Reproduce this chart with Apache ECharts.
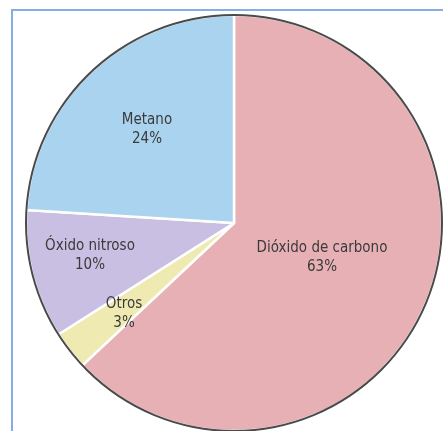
<!DOCTYPE html>
<html>
<head>
<meta charset="utf-8">
<script src="https://cdn.jsdelivr.net/npm/echarts@6/dist/echarts.min.js"></script>
<style>html,body{margin:0;padding:0;background:#fff}#c{width:443px;height:431px}</style>
</head>
<body>
<div id="c"></div>
<script>
const categories = ['Dióxido de carbono', 'Otros', 'Óxido nitroso', 'Metano'];
const values = [63, 3, 10, 24];
const colors = ['#e7b0b5', '#efeab2', '#c9bfe3', '#a9d3ee'];
const labelPos = [[322, 258], [124, 314], [90, 256], [147, 130]];

const chart = echarts.init(document.getElementById('c'), null, {renderer: 'canvas'});
chart.setOption({
  animation: false,
  graphic: [{
    type: 'rect', shape: {x: 12, y: 10, width: 600, height: 600},
    style: {fill: 'none', stroke: '#86aee6', lineWidth: 2}, z: 0
  }],
  series: [{
    type: 'pie',
    center: [234, 223],
    radius: [0, 208],
    startAngle: 90,
    clockwise: true,
    z: 2,
    itemStyle: {borderColor: '#ffffff', borderWidth: 2.5},
    label: {
      show: true, position: 'inside',
      formatter: p => p.name + '\n' + p.value + '%',
      fontFamily: '"Liberation Sans Narrow", "DejaVu Sans Condensed", sans-serif',
      fontSize: 15, color: '#3a3a3a', lineHeight: 19, align: 'center'
    },
    labelLayout: p => ({x: labelPos[p.dataIndex][0], y: labelPos[p.dataIndex][1], align: 'center', verticalAlign: 'middle'}),
    emphasis: {disabled: true},
    data: categories.map((c, i) => ({name: c, value: values[i], itemStyle: {color: colors[i]}}))
  }, {
    type: 'pie',
    center: [234, 223],
    radius: [207, 209],
    silent: true,
    z: 3,
    label: {show: false},
    itemStyle: {color: '#4a4a4a', borderWidth: 0},
    data: [{name: 'outline', value: 1}]
  }]
});
</script>
</body>
</html>
